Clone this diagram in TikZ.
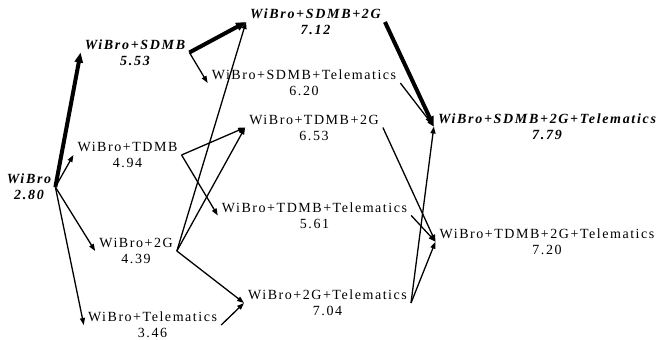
\documentclass[tikz,border=0pt]{standalone}
\usepackage{fontspec}
\setmainfont{Liberation Serif}[LetterSpace=11]
\newfontfamily\bestfont{Liberation Serif}[LetterSpace=12]
\usetikzlibrary{arrows.meta}

\begin{document}
\begin{tikzpicture}[x=1pt,y=-1pt,
  lbl/.style={align=center,inner xsep=4pt,inner ysep=0pt,font=\fontsize{14}{16}\selectfont},
  best/.style={lbl,font=\fontsize{14}{16}\selectfont\bestfont\bfseries\itshape},
  link/.style={-{Triangle[length=7pt,width=5pt]},line width=1.3pt},
  bestlink/.style={-{Triangle[length=10pt,width=8pt]},line width=4pt}]

\useasboundingbox (0,0) rectangle (656,340);

\node[best] (w) at (29,187) {WiBro\\2.80};

\node[best] (ws) at (135,52.5) {WiBro+SDMB\\5.53};
\node[lbl] (wt) at (127.5,155) {WiBro+TDMB\\4.94};
\node[lbl] (wg) at (136,251) {WiBro+2G\\4.39};
\node[lbl] (wm) at (152.5,325) {WiBro+Telematics\\3.46};

\node[best] (wsg) at (315.5,22) {WiBro+SDMB+2G\\7.12};
\node[lbl] (wsm) at (304,83) {WiBro+SDMB+Telematics\\6.20};
\node[lbl] (wtg) at (314,127.5) {WiBro+TDMB+2G\\6.53};
\node[lbl] (wtm) at (314.5,215.5) {WiBro+TDMB+Telematics\\5.61};
\node[lbl] (wgm) at (327.5,303) {WiBro+2G+Telematics\\7.04};

\node[best] (wsgm) at (547,126.5) {WiBro+SDMB+2G+Telematics\\7.79};
\node[lbl] (wtgm) at (547,241.7) {WiBro+TDMB+2G+Telematics\\7.20};

\draw [bestlink] (w.east) -- (ws.west);
\draw [link] (w.east) -- (wt.west);
\draw [link] (w.east) -- (wg.west);
\draw [link] (w.east) -- (wm.west);

\draw [bestlink] (ws.east) -- (wsg.west);
\draw [link] (ws.east) -- (wsm.west);
\draw [link] (wt.east) -- (wtg.west);
\draw [link] (wt.east) -- (wtm.west);
\draw [link] (wg.east) -- (wsg.west);
\draw [link] (wg.east) -- (wtg.west);
\draw [link] (wg.east) -- (wgm.west);
\draw [link] (wm.east) -- (wgm.west);

\draw [bestlink] (wsg.east) -- (wsgm.west);
\draw [link] (wsm.east) -- (wsgm.west);
\draw [link] (wtg.east) -- (wtgm.west);
\draw [link] (wtm.east) -- (wtgm.west);
\draw [link] (wgm.east) -- (wsgm.west);
\draw [link] (wgm.east) -- (wtgm.west);
\end{tikzpicture}
\end{document}
